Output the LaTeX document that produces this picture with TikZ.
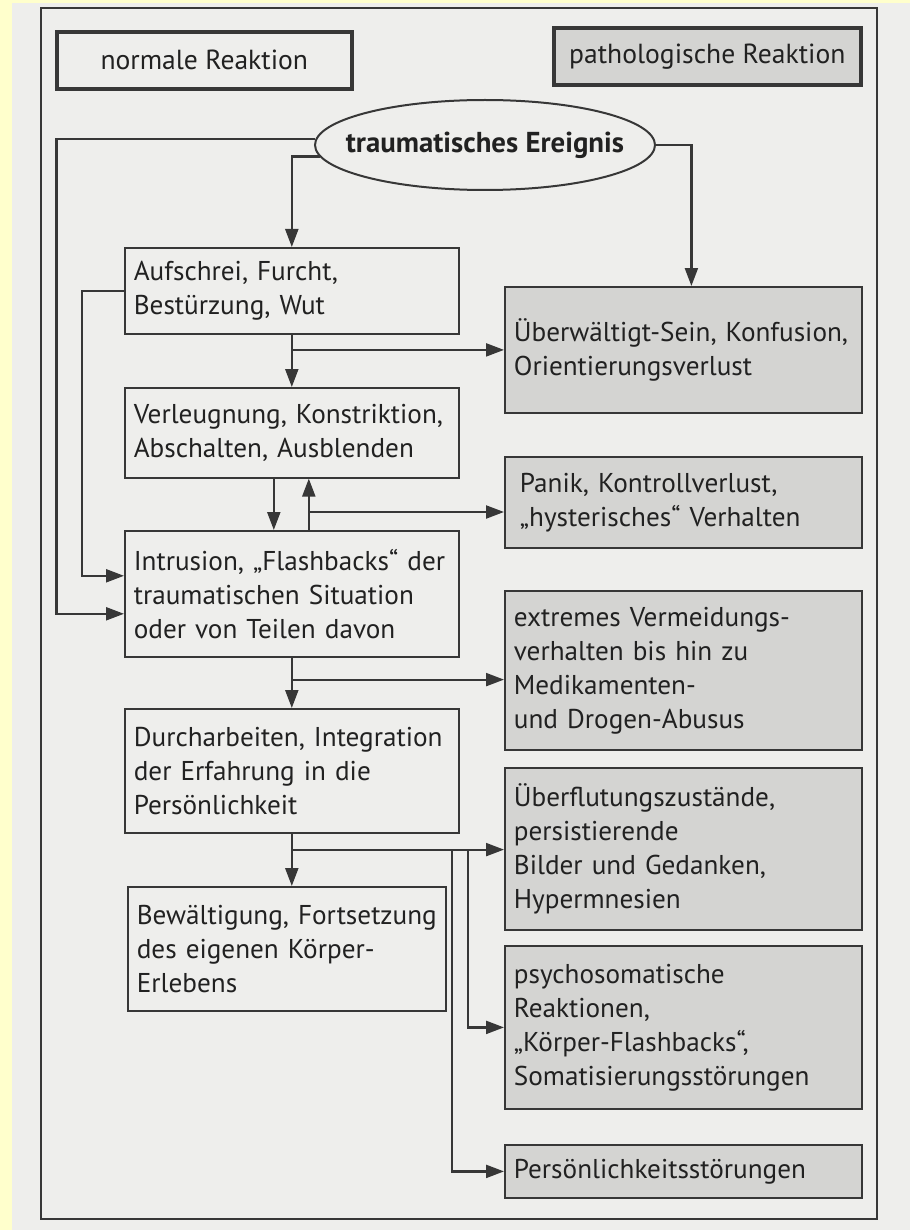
\documentclass[tikz,border=0pt]{standalone}
\usepackage{fontspec}
\setmainfont{PT Sans}
\usetikzlibrary{arrows.meta,shapes.geometric,calc}

\definecolor{paper}{RGB}{238,238,236}
\definecolor{rim}{RGB}{255,255,204}
\definecolor{ink}{RGB}{55,55,55}
\definecolor{shade}{RGB}{212,212,210}

\tikzset{
  lbox/.style={draw=ink, line width=0.8pt, fill=paper, anchor=north west, align=left,
    inner xsep=4.5pt, inner ysep=0pt, text=ink!60!black,
    font=\fontsize{13.6}{17}\selectfont},
  rbox/.style={lbox, fill=shade, line width=0.9pt},
  head/.style={draw=ink, line width=1.8pt, anchor=north west, inner sep=0pt,
    minimum height=28.5pt, text=ink!60!black, font=\fontsize{13.8}{16}\selectfont},
  arr/.style={draw=ink, line width=1.1pt, -{Triangle[length=9pt,width=6.5pt]}}
}

\begin{document}
\begin{tikzpicture}[x=0.5pt, y=-0.5pt]
  \useasboundingbox (0,0) rectangle (910,1230);
  \fill[paper] (0,0) rectangle (910,1230);
  \fill[rim] (0,0) rectangle (12,1230);
  \fill[rim] (0,0) rectangle (910,3);
  \draw[ink, line width=0.7pt] (41,8) rectangle (877,1219);

  % headings
  \node[head, fill=paper, minimum width=147.5pt] (norm) at (55,30) {normale Reaktion};
  \node[head, fill=shade, minimum width=153.5pt] (path) at (552,26) {pathologische Reaktion};

  % the event
  \node[draw=ink, line width=1pt, ellipse, fill=paper, minimum width=170pt, minimum height=45pt,
    inner sep=0pt, text=ink!60!black, font=\bfseries\fontsize{14.4}{16}\selectfont]
    (ell) at (485,145) {\makebox[0pt]{traumatisches Ereignis}};

  % normal course
  \node[lbox, text width=158pt, minimum height=43pt] (auf) at (124,247)
    {Aufschrei, Furcht,\\Bestürzung, Wut};
  \node[lbox, text width=158pt, minimum height=45pt] (verl) at (124,387)
    {Verleugnung, Konstriktion,\\Abschalten, Ausblenden};
  \node[lbox, text width=158pt, minimum height=63pt] (intr) at (124,530)
    {Intrusion, „Flashbacks“ der\\traumatischen Situation\\oder von Teilen davon};
  \node[lbox, text width=158pt, minimum height=62pt] (durch) at (124,708)
    {Durcharbeiten, Integration\\der Erfahrung in die\\Persönlichkeit};
  \node[lbox, text width=150pt, minimum height=62pt] (bew) at (127,886)
    {Bewältigung, Fortsetzung\\des eigenen Körper-\\Erlebens};

  % pathological course
  \node[rbox, text width=169.5pt, minimum height=63pt] (ueber) at (504,286)
    {Überwältigt-Sein, Konfusion,\\Orientierungsverlust};
  \node[rbox, text width=169.5pt, minimum height=45.5pt] (panik) at (504,456)
    {\hspace{3pt}Panik, Kontrollverlust,\\\hspace{3pt}„hysterisches“ Verhalten};
  \node[rbox, text width=169.5pt, minimum height=79.5pt] (extr) at (504,590)
    {extremes Vermeidungs-\\verhalten bis hin zu\\Medikamenten-\\und Drogen-Abusus};
  \node[rbox, text width=169.5pt, minimum height=81pt] (flut) at (504,767)
    {Überflutungszustände,\\persistierende\\Bilder und Gedanken,\\Hypermnesien};
  \node[rbox, text width=169.5pt, minimum height=81.5pt] (psy) at (504,945)
    {psychosomatische\\Reaktionen,\\„Körper-Flashbacks“,\\Somatisierungsstörungen};
  \node[rbox, text width=169.5pt, minimum height=26.5pt] (pers) at (504,1144)
    {Persönlichkeitsstörungen};

  % connectors from the event
  \draw[arr] (ell.178) -- ++(-259,0) |- ($(intr.west)+(0,20)$);
  \draw[arr] (auf.west) -- ++(-42,0) |- ($(intr.west)+(0,-18)$);
  \draw[arr] (ell.184) -| (auf.north);
  \draw[arr] (ell.east) -| ($(ueber.north)+(8,0)$);

  % down the columns
  \draw[arr] (auf.south) -- (verl.north);
  \draw[arr] (auf.south |- ueber.west) -- (ueber.west);
  \draw[arr] ($(verl.south)+(-18,0)$) -- ($(intr.north)+(-18,0)$);
  \draw[arr] ($(intr.north)+(17,0)$) -- ($(verl.south)+(17,0)$);
  \coordinate (up) at ($(intr.north)+(17,-18)$);
  \draw[arr] (up) -- (up -| panik.west);
  \draw[arr] (intr.south) -- (durch.north);
  \coordinate (j3) at ($(intr.south)+(0,22)$);
  \draw[arr] (j3) -- (j3 -| extr.west);
  \draw[arr] (durch.south) -- (durch.south |- bew.north);
  \coordinate (j4) at ($(durch.south)+(0,16)$);
  \draw[arr] (j4) -- (j4 -| flut.west);
  \draw[arr] ($(j4 -| flut.west)+(-36,0)$) |- (psy.west);
  \draw[arr] ($(j4 -| flut.west)+(-52,0)$) |- (pers.west);
\end{tikzpicture}
\end{document}
